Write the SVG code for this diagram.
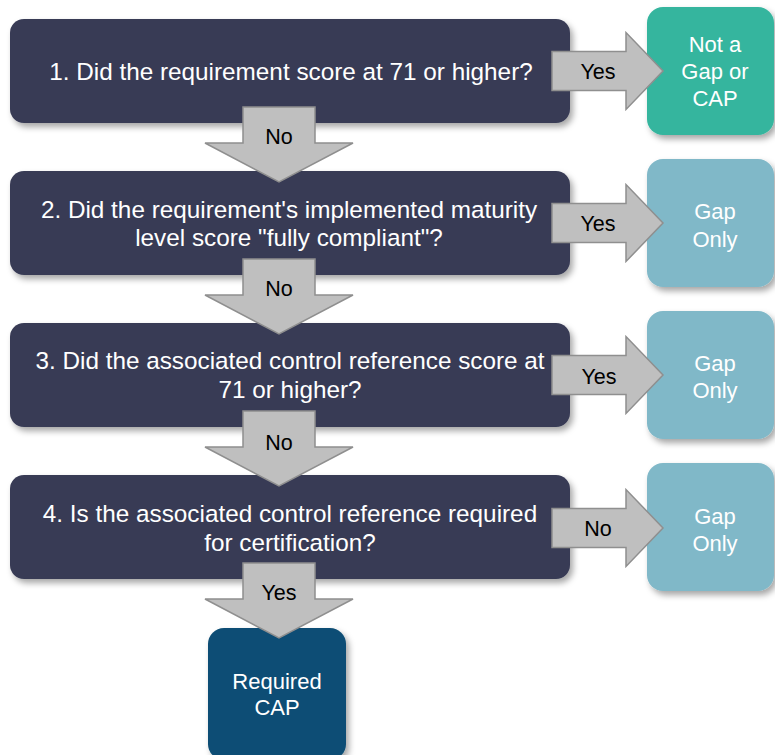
<svg xmlns="http://www.w3.org/2000/svg" width="775" height="755" viewBox="0 0 775 755">
<defs>
<filter id="sh" x="-10%" y="-10%" width="130%" height="140%">
<feDropShadow dx="3" dy="4" stdDeviation="3" flood-color="#000" flood-opacity="0.35"/>
</filter>
<style>
.q{fill:#383b55;filter:url(#sh)}
.g{fill:#35b59e;filter:url(#sh)}
.b{fill:#80b8c8;filter:url(#sh)}
.d{fill:#0c4e74;filter:url(#sh)}
.ar{fill:#bfbfbf;stroke:#8f8f8f;stroke-width:1.5;stroke-linejoin:miter}
.t{font-family:"Liberation Sans",Arial,sans-serif;font-size:24.3px;fill:#fff;text-anchor:middle}
.r{font-family:"Liberation Sans",Arial,sans-serif;font-size:22px;fill:#fff;text-anchor:middle}
.l{font-family:"Liberation Sans",Arial,sans-serif;font-size:21.5px;fill:#000;text-anchor:middle}
</style>
</defs>
<rect width="775" height="755" fill="#fff"/>
<g id="q1"><rect class="q" x="10" y="19" width="560" height="104" rx="14"/><text class="t" x="291" y="80">1. Did the requirement score at 71 or higher?</text></g>
<g id="q2"><rect class="q" x="10" y="171" width="560" height="104" rx="14"/><text class="t" x="289" y="218">2. Did the requirement's implemented maturity</text><text class="t" x="289" y="246">level score "fully compliant"?</text></g>
<g id="q3"><rect class="q" x="10" y="323" width="560" height="104" rx="14"/><text class="t" x="290" y="369">3. Did the associated control reference score at</text><text class="t" x="290" y="398">71 or higher?</text></g>
<g id="q4"><rect class="q" x="10" y="475" width="560" height="104" rx="14"/><text class="t" x="290" y="522">4. Is the associated control reference required</text><text class="t" x="290" y="551">for certification?</text></g>
<g id="r1"><rect class="g" x="647" y="7" width="127" height="128" rx="16"/><text class="r" x="715" y="52">Not a</text><text class="r" x="715" y="79">Gap or</text><text class="r" x="715" y="106">CAP</text></g>
<g id="r2"><rect class="b" x="647" y="159" width="127" height="128" rx="16"/><text class="r" x="715" y="219">Gap</text><text class="r" x="715" y="247">Only</text></g>
<g id="r3"><rect class="b" x="647" y="311" width="127" height="128" rx="16"/><text class="r" x="715" y="371">Gap</text><text class="r" x="715" y="398">Only</text></g>
<g id="r4"><rect class="b" x="647" y="463" width="127" height="128" rx="16"/><text class="r" x="715" y="524">Gap</text><text class="r" x="715" y="551">Only</text></g>
<g id="cap"><rect class="d" x="208" y="628" width="138" height="132" rx="16"/><text class="r" x="277" y="689">Required</text><text class="r" x="277" y="715">CAP</text></g>
<g id="connectors">
<polygon class="ar" points="552,51.5 626,51.5 626,32.5 663,71 626,109.5 626,90.5 552,90.5"/>
<text class="l" x="598" y="79">Yes</text>
<polygon class="ar" points="552,203.5 626,203.5 626,184.5 663,223 626,261.5 626,242.5 552,242.5"/>
<text class="l" x="598" y="231">Yes</text>
<polygon class="ar" points="552,355.5 626,355.5 626,336.5 663,375 626,413.5 626,394.5 552,394.5"/>
<text class="l" x="599" y="384">Yes</text>
<polygon class="ar" points="552,508.5 626,508.5 626,489.5 663,528 626,566.5 626,547.5 552,547.5"/>
<text class="l" x="598" y="536">No</text>
<polygon class="ar" points="243,107 315,107 315,143 353,143 279,182 205,143 243,143"/>
<text class="l" x="279" y="144">No</text>
<polygon class="ar" points="243,259 315,259 315,295 353,295 279,334 205,295 243,295"/>
<text class="l" x="279" y="296">No</text>
<polygon class="ar" points="243,411 315,411 315,447 353,447 279,486 205,447 243,447"/>
<text class="l" x="279" y="450">No</text>
<polygon class="ar" points="243,563 315,563 315,599 353,599 279,638 205,599 243,599"/>
<text class="l" x="279" y="600">Yes</text>
</g>
</svg>
